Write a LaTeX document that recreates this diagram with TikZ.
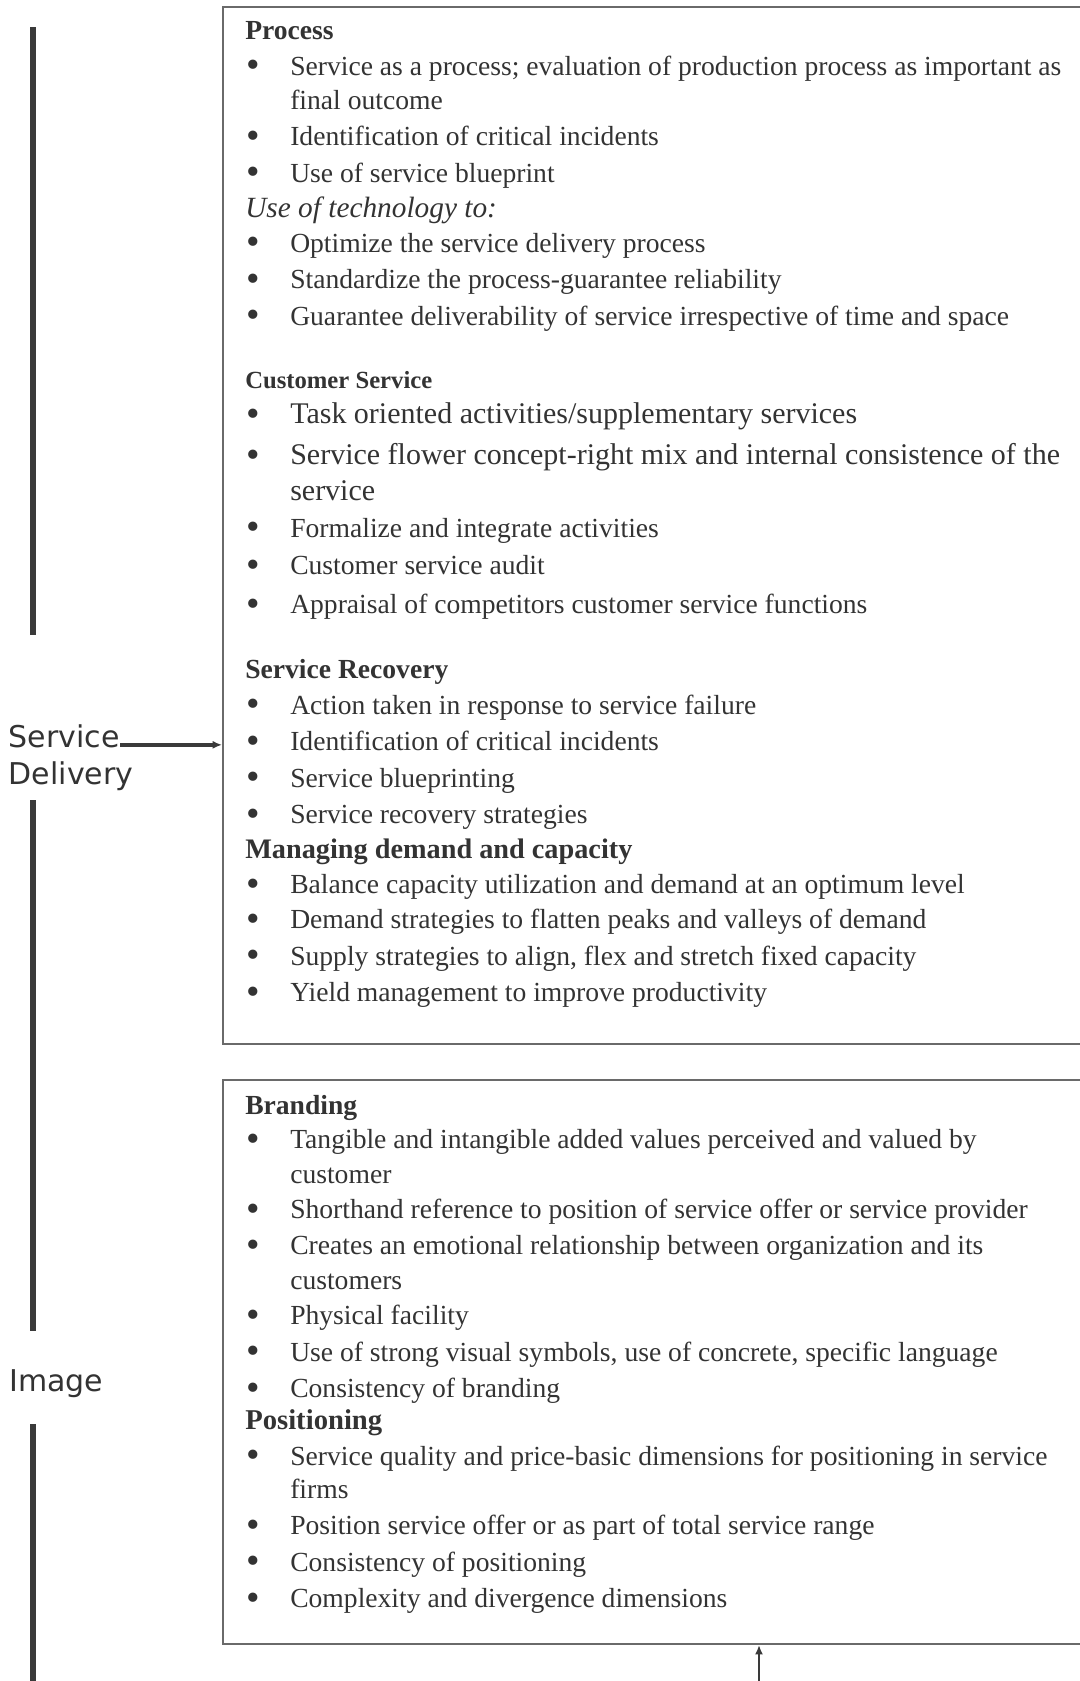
\documentclass[tikz,border=0pt]{standalone}
\usepackage{fontspec}
\setmainfont{Liberation Serif}
\newfontfamily\labelfont{DejaVu Sans}
\usetikzlibrary{arrows.meta}

\definecolor{inkgray}{HTML}{333333}
\definecolor{boxgray}{HTML}{6A6A6A}
\definecolor{bargray}{HTML}{3A3A3A}

\newcommand{\dotmark}{\raisebox{-2pt}{\scalebox{1.4}{\textbullet}}}

\tikzset{
	panel/.style={draw=boxgray, line width=1.5pt, rectangle, inner sep=0pt, anchor=north west},
	head/.style={anchor=base west, inner sep=0pt, text=inkgray, font=\fontsize{20.7}{24}\selectfont\bfseries},
	item/.style={anchor=base west, inner sep=0pt, text=inkgray, font=\fontsize{20.7}{24}\selectfont},
	bigitem/.style={item, font=\fontsize{22.5}{26}\selectfont},
	bul/.style={anchor=base, inner sep=0pt, text=inkgray, text height=9pt, text depth=0pt, font=\fontsize{20.7}{24}\selectfont},
	sidelabel/.style={anchor=base west, inner sep=0pt, text=inkgray, font=\labelfont\fontsize{22.5}{26}\selectfont},
	bar/.style={draw=bargray, line width=3.8pt},
	feed/.style={draw=bargray, line width=2.6pt, -{Latex[length=7pt,width=6pt]}},
	feedup/.style={draw=bargray, line width=1.5pt, -{Latex[length=7pt,width=6pt]}}
}

\begin{document}
\begin{tikzpicture}[x=0.75pt,y=0.75pt,yscale=-1,xscale=1]
	\useasboundingbox (0,0) rectangle (1080,1681);
	\clip (0,0) rectangle (1080,1681);

	% Boxes
	\node[panel, minimum width=657pt, minimum height=778pt] (upper) at (222,5.5) {};
	\node[panel, minimum width=657pt, minimum height=423pt] (lower) at (222,1079) {};

	% Side labels
	\node[sidelabel] (svc) at (8.6,747.5) {Service};
	\node[sidelabel] (dlv) at (8.6,784) {Delivery};
	\node[sidelabel] (img) at (9,1391) {Image};

	% Side bars
	\coordinate (bar1a) at (33,27);
	\coordinate (bar1b) at (33,635);
	\coordinate (bar2a) at (33,800);
	\coordinate (bar2b) at (33,1331);
	\coordinate (bar3a) at (33,1424);
	\coordinate (bar3b) at (33,1690);
	\draw[bar] (bar1a) -- (bar1b);
	\draw[bar] (bar2a) -- (bar2b);
	\draw[bar] (bar3a) -- (bar3b);

	% Connections
	\draw[feed] ([yshift=-2pt]svc.base east) -- ([yshift=-2pt]svc.base east -| upper.west);
	\coordinate (tail) at (759,1690);
	\draw[feedup] (tail) -- (tail |- lower.south);

	% Process
	\node[head] (hproc) at (245,39.7) {Process};
	\node[bul] (bp1) at (253,75.1) {\dotmark};
	\node[item] (tp1) at (290,75.1) {Service as a process; evaluation of production process as important as};
	\node[item] (tp1b) at (290,109.4) {final outcome};
	\node[bul] (bp2) at (253,145.9) {\dotmark};
	\node[item] (tp2) at (290,145.9) {Identification of critical incidents};
	\node[bul] (bp3) at (253,182.3) {\dotmark};
	\node[item] (tp3) at (290,182.3) {Use of service blueprint};
	\node[item, font=\fontsize{22}{26}\selectfont\itshape] (htech) at (245,217.7) {Use of technology to:};
	\node[bul] (bp4) at (253,252) {\dotmark};
	\node[item] (tp4) at (290,252) {Optimize the service delivery process};
	\node[bul] (bp5) at (253,288.5) {\dotmark};
	\node[item] (tp5) at (290,288.5) {Standardize the process-guarantee reliability};
	\node[bul] (bp6) at (253,325) {\dotmark};
	\node[item] (tp6) at (290,325) {Guarantee deliverability of service irrespective of time and space};

	% Customer Service
	\node[head, font=\fontsize{18.5}{22}\selectfont\bfseries] (hcust) at (245,388.2) {Customer Service};
	\node[bul] (bc1) at (253,423.6) {\dotmark};
	\node[bigitem] (tc1) at (290,423.6) {Task oriented activities/supplementary services};
	\node[bul] (bc2) at (253,464.4) {\dotmark};
	\node[bigitem] (tc2) at (290,464.4) {Service flower concept-right mix and internal consistence of the};
	\node[bigitem] (tc2b) at (290,500.9) {service};
	\node[bul] (bc3) at (253,537.3) {\dotmark};
	\node[item] (tc3) at (290,537.3) {Formalize and integrate activities};
	\node[bul] (bc4) at (253,574.9) {\dotmark};
	\node[item] (tc4) at (290,574.9) {Customer service audit};
	\node[bul] (bc5) at (253,613.5) {\dotmark};
	\node[item] (tc5) at (290,613.5) {Appraisal of competitors customer service functions};

	% Service Recovery
	\node[head] (hrec) at (245,678.9) {Service Recovery};
	\node[bul] (br1) at (253,714.3) {\dotmark};
	\node[item] (tr1) at (290,714.3) {Action taken in response to service failure};
	\node[bul] (br2) at (253,750.8) {\dotmark};
	\node[item] (tr2) at (290,750.8) {Identification of critical incidents};
	\node[bul] (br3) at (253,787.2) {\dotmark};
	\node[item] (tr3) at (290,787.2) {Service blueprinting};
	\node[bul] (br4) at (253,823.7) {\dotmark};
	\node[item] (tr4) at (290,823.7) {Service recovery strategies};

	% Managing demand and capacity
	\node[head, font=\fontsize{21.2}{25}\selectfont\bfseries] (hdem) at (245,858) {Managing demand and capacity};
	\node[bul] (bd1) at (253,893.4) {\dotmark};
	\node[item] (td1) at (290,893.4) {Balance capacity utilization and demand at an optimum level};
	\node[bul] (bd2) at (253,928.8) {\dotmark};
	\node[item] (td2) at (290,928.8) {Demand strategies to flatten peaks and valleys of demand};
	\node[bul] (bd3) at (253,965.3) {\dotmark};
	\node[item] (td3) at (290,965.3) {Supply strategies to align, flex and stretch fixed capacity};
	\node[bul] (bd4) at (253,1001.7) {\dotmark};
	\node[item] (td4) at (290,1001.7) {Yield management to improve productivity};

	% Branding
	\node[head] (hbrand) at (245,1114.3) {Branding};
	\node[bul] (bb1) at (253,1148.6) {\dotmark};
	\node[item] (tb1) at (290,1148.6) {Tangible and intangible added values perceived and valued by};
	\node[item] (tb1b) at (290,1183) {customer};
	\node[bul] (bb2) at (253,1218.4) {\dotmark};
	\node[item] (tb2) at (290,1218.4) {Shorthand reference to position of service offer or service provider};
	\node[bul] (bb3) at (253,1254.8) {\dotmark};
	\node[item] (tb3) at (290,1254.8) {Creates an emotional relationship between organization and its};
	\node[item] (tb3b) at (290,1289.1) {customers};
	\node[bul] (bb4) at (253,1324.5) {\dotmark};
	\node[item] (tb4) at (290,1324.5) {Physical facility};
	\node[bul] (bb5) at (253,1361) {\dotmark};
	\node[item] (tb5) at (290,1361) {Use of strong visual symbols, use of concrete, specific language};
	\node[bul] (bb6) at (253,1397.5) {\dotmark};
	\node[item] (tb6) at (290,1397.5) {Consistency of branding};

	% Positioning
	\node[head, font=\fontsize{21.5}{25}\selectfont\bfseries] (hpos) at (245,1429.6) {Positioning};
	\node[bul] (bq1) at (253,1465) {\dotmark};
	\node[item] (tq1) at (290,1465) {Service quality and price-basic dimensions for positioning in service};
	\node[item] (tq1b) at (290,1498.3) {firms};
	\node[bul] (bq2) at (253,1534.7) {\dotmark};
	\node[item] (tq2) at (290,1534.7) {Position service offer or as part of total service range};
	\node[bul] (bq3) at (253,1571.2) {\dotmark};
	\node[item] (tq3) at (290,1571.2) {Consistency of positioning};
	\node[bul] (bq4) at (253,1607.7) {\dotmark};
	\node[item] (tq4) at (290,1607.7) {Complexity and divergence dimensions};

\end{tikzpicture}
\end{document}
